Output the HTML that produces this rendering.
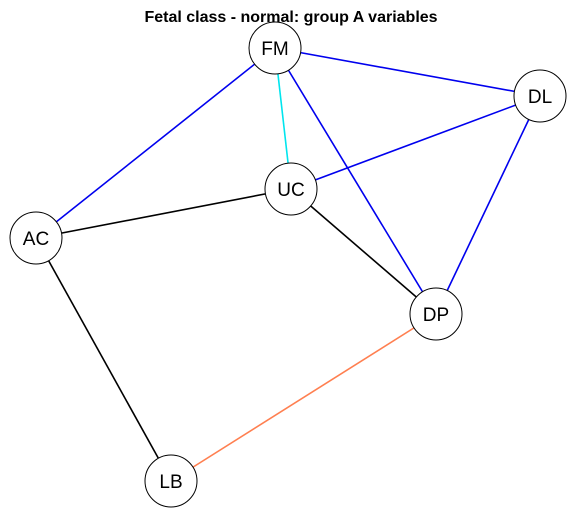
<!DOCTYPE html>
<html><head><meta charset="utf-8"><style>
html,body{margin:0;padding:0;background:#fff;}
svg{display:block;}
</style></head><body>
<svg id="chart" width="583" height="515" xmlns="http://www.w3.org/2000/svg">
<text x="291" y="22" text-anchor="middle" font-family="Liberation Sans, sans-serif" font-weight="bold" font-size="16">Fetal class - normal: group A variables</text>
<g id="edges"></g><g id="nodes"></g>
</svg>
<script>
const nodeNames = ["FM","DL","UC","AC","DP","LB"];
const nodeX = [275,540,291,36,436,171];
const nodeY = [48,96,189,238,314,481];
const edgeFrom = ["FM","FM","FM","FM","DL","DL","UC","UC","AC","DP"];
const edgeTo   = ["DL","AC","UC","DP","UC","DP","AC","DP","LB","LB"];
const edgeColor = ["#0000EE","#0000EE","#00E5EE","#0000EE","#0000EE","#0000EE","#000000","#000000","#000000","#FF7F50"];
const ns="http://www.w3.org/2000/svg";
const eg=document.getElementById('edges'), ng=document.getElementById('nodes');
const idx=n=>nodeNames.indexOf(n);
edgeFrom.forEach((f,i)=>{
  const a=idx(f), b=idx(edgeTo[i]);
  const l=document.createElementNS(ns,'line');
  l.setAttribute('x1',nodeX[a]);l.setAttribute('y1',nodeY[a]);
  l.setAttribute('x2',nodeX[b]);l.setAttribute('y2',nodeY[b]);
  l.setAttribute('stroke',edgeColor[i]);l.setAttribute('stroke-width','1.6');
  
  
  eg.appendChild(l);
});
nodeNames.forEach((n,i)=>{
  const g=document.createElementNS(ns,'g');
  
  
  const c=document.createElementNS(ns,'circle');
  c.setAttribute('cx',nodeX[i]);c.setAttribute('cy',nodeY[i]);c.setAttribute('r','26');
  c.setAttribute('fill','#fff');c.setAttribute('stroke','#000');c.setAttribute('stroke-width','1');
  const t=document.createElementNS(ns,'text');
  t.setAttribute('x',nodeX[i]);t.setAttribute('y',nodeY[i]+7);
  t.setAttribute('text-anchor','middle');t.setAttribute('font-family','Liberation Sans, sans-serif');
  t.setAttribute('font-size','19');t.textContent=n;
  g.appendChild(c);g.appendChild(t);ng.appendChild(g);
});
</script>
</body></html>
